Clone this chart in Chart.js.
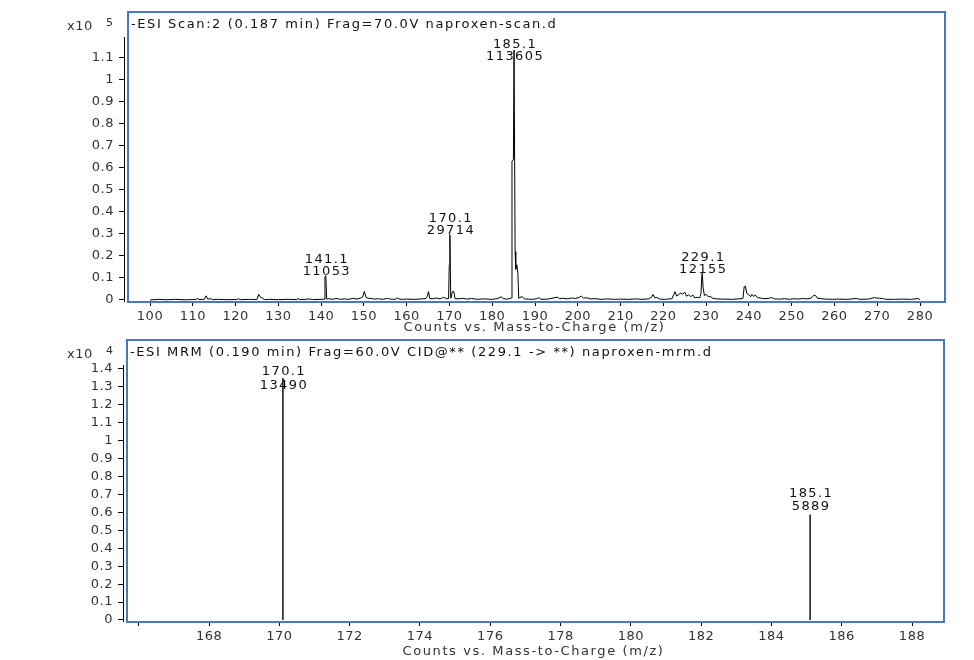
<!DOCTYPE html>
<html><head><meta charset="utf-8">
<script src="https://cdn.jsdelivr.net/npm/chart.js@4"></script>
<style>
html,body{margin:0;padding:0;background:#fff;width:974px;height:660px;overflow:hidden}
canvas{position:absolute;left:0;top:0}
</style></head><body>
<canvas id="c1" width="974" height="660"></canvas>
<canvas id="c2" width="974" height="660"></canvas>
<script>
// ---------- DATA ----------
const topTitle = '-ESI Scan:2 (0.187 min) Frag=70.0V naproxen-scan.d';
const bottomTitle = '-ESI MRM (0.190 min) Frag=60.0V CID@** (229.1 -> **) naproxen-mrm.d';
const xAxisTitle = 'Counts vs. Mass-to-Charge (m/z)';

// profile spectrum: [m/z, counts]
const topProfile = [
 [100,0],[102,300],[104,100],[106,300],[108,100],[110,200],[110.8,200],[111.1,900],[111.4,200],[112.7,300],
 [113.1,1900],[113.5,400],[114.2,600],[114.6,150],[116,300],[118,150],[120.3,200],[120.7,600],[121.1,150],[123,300],
 [125,200],[125.4,2600],[125.8,1200],[126.3,800],[126.8,200],[128,300],[130,150],[132,300],[134.3,200],[134.6,700],
 [134.9,200],[136.5,300],[137.2,500],[138,200],[140,300],[140.7,400],[140.9,10500],[141.1,11053],[141.3,400],[142,600],
 [142.6,300],[143.5,700],[144.5,300],[145.5,500],[146.5,300],[147.5,800],[148.3,400],[149.3,900],[149.7,1300],[150.1,3900],
 [150.5,1200],[151,800],[151.7,700],[152.5,400],[153.4,600],[154.3,300],[155.5,700],[156.2,400],[157.3,300],[157.8,900],
 [158.4,300],[160,400],[162,300],[163.5,500],[164.5,700],[164.8,1500],[165.1,3800],[165.4,700],[166.2,600],[167,900],
 [167.8,500],[168.6,1200],[169.3,600],[169.8,600],[169.95,16000],[170.1,29714],[170.3,800],[170.7,3800],[171.0,4000],[171.3,600],
 [172,500],[173,800],[174,400],[175.2,700],[176.5,300],[178,500],[180,300],[181.3,700],[182.1,1400],[182.6,600],
 [183.5,400],[184.2,700],[184.55,900],[184.62,63000],[184.95,64000],[185.1,113605],[185.35,22000],[185.5,14000],[185.75,16000],[186.0,12000],
 [186.2,800],[187,1600],[187.5,500],[188.5,400],[189.5,300],[190.6,700],[190.9,1200],[191.3,300],[193,400],[194.7,1100],[195.2,1300],
 [195.8,600],[196.5,800],[197.5,500],[198.5,900],[199.5,700],[200.3,1200],[200.8,1800],[201.3,900],[202,1000],[203,500],
 [204,600],[205.5,300],[207,500],[208.5,300],[210,400],[212,300],[213.5,500],[215,300],[216.5,500],[217.2,1200],
 [217.6,2500],[218,1000],[218.5,1100],[219.2,400],[220.5,300],[222,600],[222.4,2300],[222.7,3800],[223.1,1800],[223.6,2500],
 [224.1,3200],[224.5,2600],[225,3600],[225.4,1700],[225.9,2400],[226.4,1500],[226.9,2300],[227.3,1000],[227.9,1200],[228.5,1000],
 [228.8,3000],[229.0,11000],[229.1,12155],[229.3,5500],[229.6,2000],[230,2600],[230.5,1500],[231,1600],[231.6,700],[232.5,500],
 [234,400],[236,300],[237.5,500],[238.6,700],[238.9,6000],[239.2,6300],[239.5,3000],[240,2300],[240.4,1500],[240.7,2600],
 [241.1,1600],[241.5,2300],[242,1100],[242.7,900],[243.5,600],[244.5,700],[245.3,1100],[246,500],[247.2,400],[248.3,600],
 [249.5,300],[250.5,600],[251.5,400],[252.5,700],[253.5,500],[254.5,800],[255.2,2200],[255.6,2000],[256,800],[256.8,600],
 [258,400],[259.5,300],[261,400],[263,300],[265.2,700],[266,300],[268,400],[269.3,1100],[269.8,900],[270.5,800],
 [271.2,700],[272,300],[274,300],[276,400],[278,300],[279.7,700],[280,0]
];
const topPeakMz = [141.1, 170.1, 185.1, 229.1];
const topPeakCounts = [11053, 29714, 113605, 12155];
const topXTicks = [100,110,120,130,140,150,160,170,180,190,200,210,220,230,240,250,260,270,280];
const topYTicks = [0,10000,20000,30000,40000,50000,60000,70000,80000,90000,100000,110000];
const topYTickLabels = ['0','0.1','0.2','0.3','0.4','0.5','0.6','0.7','0.8','0.9','1','1.1'];
const topExponent = '5';

const bottomMz = [170.1, 185.1];
const bottomCounts = [13490, 5889];
const bottomXTicks = [166,168,170,172,174,176,178,180,182,184,186,188];
const bottomXTickLabels = ['','168','170','172','174','176','178','180','182','184','186','188'];
const bottomYTicks = [0,1000,2000,3000,4000,5000,6000,7000,8000,9000,10000,11000,12000,13000,14000];
const bottomYTickLabels = ['0','0.1','0.2','0.3','0.4','0.5','0.6','0.7','0.8','0.9','1','1.1','1.2','1.3','1.4'];
const bottomExponent = '4';

// ---------- STYLE ----------
const FONT = 'DejaVu Sans';
const tickFont = {family: FONT, size: 13};
const TXT = '#333';
const BLUE = '#4a78c6';

function panelPlugin(title, exponent, labelOff, labelGap, labelMinY, xTitleOff) {
  return {
    id: 'panel',
    beforeDraw(chart) {
      chart.ctx.letterSpacing = '0.5px';
    },
    afterDraw(chart) {
      const ctx = chart.ctx, a = chart.chartArea;
      const xs = chart.scales.x, ys = chart.scales.y;
      ctx.save();
      // frame
      ctx.strokeStyle = BLUE; ctx.lineWidth = 2;
      ctx.strokeRect(a.left + 4, a.top - 25, a.right - a.left - 4, a.bottom - a.top + 26);
      // panel title
      ctx.letterSpacing = '1.6px';
      ctx.fillStyle = '#111';
      ctx.font = '13px "' + FONT + '"';
      ctx.textBaseline = 'middle'; ctx.textAlign = 'left';
      ctx.fillText(title, a.left + 7, a.top - 12);
      // x axis title
      ctx.fillStyle = TXT;
      ctx.textAlign = 'center';
      ctx.fillText(xAxisTitle, (a.left + a.right) / 2, a.bottom + xTitleOff);
      // exponent
      ctx.textAlign = 'left';
      ctx.letterSpacing = '0.5px';
      ctx.fillText('x10', 67, a.top - 10);
      ctx.font = '11px "' + FONT + '"';
      ctx.fillText(exponent, 106, a.top - 14);
      // peak labels
      ctx.fillStyle = '#111';
      ctx.letterSpacing = '1.4px';
      ctx.font = '13px "' + FONT + '"';
      ctx.textAlign = 'center';
      const ds = chart.config.options.peakLabels;
      ds.mz.forEach((m, i) => {
        const px = xs.getPixelForValue(m) + 1;
        const py = ys.getPixelForValue(ds.counts[i]);
        const y1 = Math.max(py - labelOff, labelMinY);
        ctx.fillText(m.toFixed(1), px, y1);
        ctx.fillText(String(ds.counts[i]), px, y1 + labelGap);
      });
      ctx.restore();
    }
  };
}

function tickSetter(values) {
  return s => { s.ticks = values.map(v => ({value: v})); };
}

// ---------- TOP CHART ----------
new Chart(document.getElementById('c1'), {
  type: 'line',
  data: {
    datasets: [{
      data: topProfile.map(p => ({x: p[0], y: p[1]})),
      borderColor: '#000', borderWidth: 1, pointRadius: 0, tension: 0, fill: false
    }]
  },
  options: {
    responsive: false, animation: false, devicePixelRatio: 1,
    peakLabels: {mz: topPeakMz, counts: topPeakCounts},
    layout: {padding: {left: 0, right: 29, top: 37, bottom: 325}},
    plugins: {legend: {display: false}, tooltip: {enabled: false}},
    scales: {
      x: {
        type: 'linear', min: 93.92, max: 285.84,
        afterFit: s => { s.height = 34; },
        afterBuildTicks: tickSetter(topXTicks),
        ticks: {font: tickFont, color: TXT, padding: 3, maxRotation: 0, autoSkip: false, callback: v => String(v)},
        grid: {display: true, drawOnChartArea: false, drawTicks: true, tickLength: 5, color: '#000'},
        border: {display: false},
        title: {display: false}
      },
      y: {
        type: 'linear', min: -455, max: 119545,
        afterFit: s => { s.width = 124; },
        afterBuildTicks: tickSetter(topYTicks),
        ticks: {font: tickFont, color: TXT, padding: 5, autoSkip: false, callback: (v, i) => topYTickLabels[i]},
        grid: {display: true, drawOnChartArea: false, drawTicks: true, tickLength: 5, color: '#000'},
        border: {display: true, color: '#000', width: 1}
      }
    }
  },
  plugins: [panelPlugin(topTitle, topExponent, 16, 12, 45, 27)]
});

// ---------- BOTTOM CHART ----------
const bottomData = [];
bottomMz.forEach((m, i) => {
  bottomData.push({x: m, y: 0}, {x: m, y: bottomCounts[i]}, {x: m, y: null});
});
new Chart(document.getElementById('c2'), {
  type: 'line',
  data: {
    datasets: [{
      data: bottomData,
      borderColor: '#000', borderWidth: 1.4, pointRadius: 0, tension: 0, fill: false, spanGaps: false
    }]
  },
  options: {
    responsive: false, animation: false, devicePixelRatio: 1,
    peakLabels: {mz: bottomMz, counts: bottomCounts},
    layout: {padding: {left: 0, right: 30, top: 365, bottom: 1}},
    plugins: {legend: {display: false}, tooltip: {enabled: false}},
    scales: {
      x: {
        type: 'linear', min: 165.55, max: 188.91,
        afterFit: s => { s.height = 38; },
        afterBuildTicks: tickSetter(bottomXTicks),
        ticks: {font: tickFont, color: TXT, padding: 3, maxRotation: 0, autoSkip: false, callback: (v, i) => bottomXTickLabels[i]},
        grid: {display: true, drawOnChartArea: false, drawTicks: true, tickLength: 5, color: '#000'},
        border: {display: false},
        title: {display: false}
      },
      y: {
        type: 'linear', min: -56, max: 14222,
        afterFit: s => { s.width = 123; },
        afterBuildTicks: tickSetter(bottomYTicks),
        ticks: {font: tickFont, color: TXT, padding: 5, autoSkip: false, callback: (v, i) => bottomYTickLabels[i]},
        grid: {display: true, drawOnChartArea: false, drawTicks: true, tickLength: 5, color: '#000'},
        border: {display: true, color: '#000', width: 1}
      }
    }
  },
  plugins: [panelPlugin(bottomTitle, bottomExponent, 21, 13.5, 372, 31)]
});
</script>
</body></html>
